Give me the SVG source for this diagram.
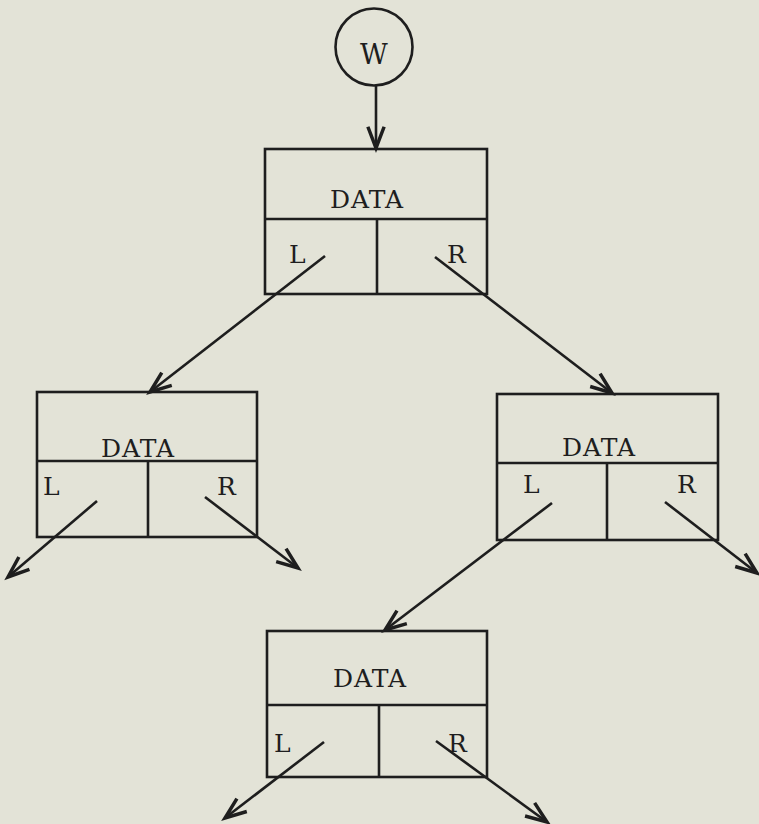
<svg xmlns="http://www.w3.org/2000/svg" width="759" height="824" viewBox="0 0 759 824">
  <style>
    .box { fill: none; stroke: #1e1e1e; stroke-width: 2.6; }
    .edge { fill: none; stroke: #1e1e1e; stroke-width: 2.6; marker-end: url(#arrow); }
    .lbl { font-family: "DejaVu Serif", "Liberation Serif", serif; font-size: 25px; letter-spacing: 1px; fill: #1e1e1e; }
    .mid { text-anchor: middle; }
    .root-name { font-size: 27px; letter-spacing: 0; }
  </style>
  <defs>
    <marker id="arrow" markerUnits="userSpaceOnUse" markerWidth="30" markerHeight="30" viewBox="-20 -10 24 20" refX="0" refY="0" orient="auto">
      <path d="M-17,-6.5 L0,0 L-17,6.5" fill="none" stroke="#1e1e1e" stroke-width="2.8" stroke-linejoin="miter"/>
    </marker>
  </defs>
  <rect width="759" height="824" fill="#e3e3d7"/>

  <!-- root pointer -->
  <g id="w">
    <circle cx="374" cy="47" r="38.5" class="box"/>
    <text x="374" y="64" class="lbl mid root-name">W</text>
  </g>

  <!-- tree nodes: data cell above, left / right pointer cells below -->
  <g id="node-root">
    <rect x="265" y="149" width="222" height="145" class="box"/>
    <line x1="265" y1="219" x2="487" y2="219" class="box"/>
    <line x1="377" y1="219" x2="377" y2="294" class="box"/>
    <text x="367" y="208" class="lbl mid">DATA</text>
    <text x="289" y="263" class="lbl">L</text>
    <text x="447" y="263" class="lbl">R</text>
  </g>

  <g id="node-left">
    <rect x="37" y="392" width="220" height="145" class="box"/>
    <line x1="37" y1="461" x2="257" y2="461" class="box"/>
    <line x1="148" y1="461" x2="148" y2="537" class="box"/>
    <text x="138" y="457" class="lbl mid">DATA</text>
    <text x="43" y="495" class="lbl">L</text>
    <text x="217" y="495" class="lbl">R</text>
  </g>

  <g id="node-right">
    <rect x="497" y="394" width="221" height="146" class="box"/>
    <line x1="497" y1="463" x2="718" y2="463" class="box"/>
    <line x1="607" y1="463" x2="607" y2="540" class="box"/>
    <text x="599" y="456" class="lbl mid">DATA</text>
    <text x="523" y="493" class="lbl">L</text>
    <text x="677" y="493" class="lbl">R</text>
  </g>

  <g id="node-bottom">
    <rect x="267" y="631" width="220" height="146" class="box"/>
    <line x1="267" y1="705" x2="487" y2="705" class="box"/>
    <line x1="379" y1="705" x2="379" y2="777" class="box"/>
    <text x="370" y="687" class="lbl mid">DATA</text>
    <text x="274" y="752" class="lbl">L</text>
    <text x="448" y="752" class="lbl">R</text>
  </g>

  <!-- pointers -->
  <g id="edges">
    <line x1="376" y1="86" x2="376" y2="148" class="edge"/>
    <line x1="325" y1="256" x2="150" y2="392" class="edge"/>
    <line x1="435" y1="257" x2="612" y2="393" class="edge"/>
    <line x1="97" y1="501" x2="8" y2="577" class="edge"/>
    <line x1="205" y1="497" x2="298" y2="568" class="edge"/>
    <line x1="552" y1="503" x2="385" y2="630" class="edge"/>
    <line x1="665" y1="502" x2="757" y2="573" class="edge"/>
    <line x1="324" y1="742" x2="225" y2="818" class="edge"/>
    <line x1="436" y1="741" x2="547" y2="822" class="edge"/>
  </g>
</svg>
